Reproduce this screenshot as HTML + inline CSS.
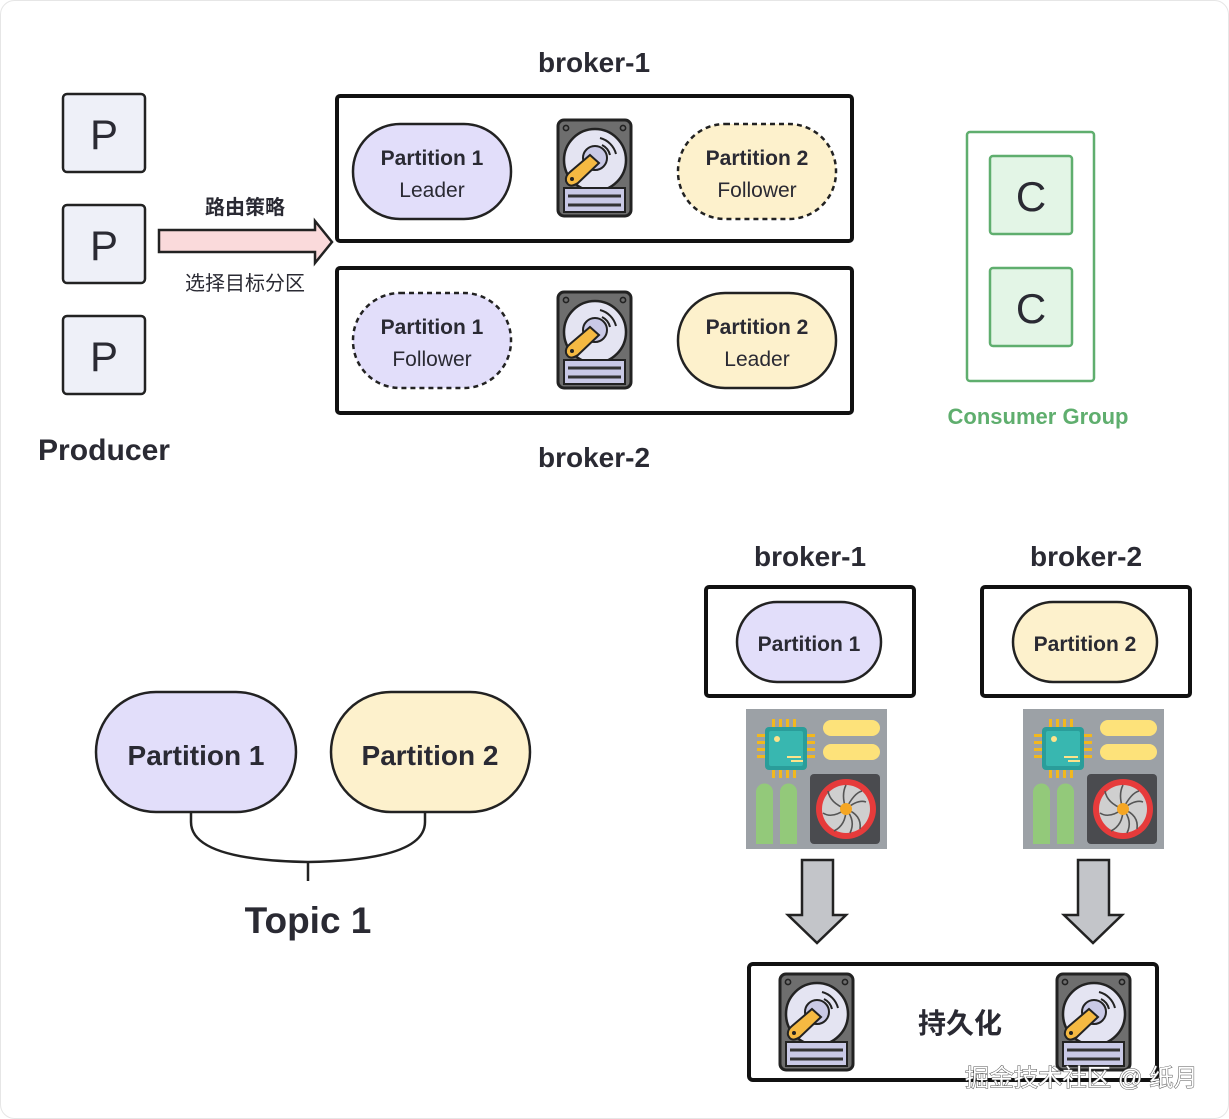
<!DOCTYPE html>
<html><head><meta charset="utf-8"><style>
html,body{margin:0;padding:0;background:#fff;}
svg{display:block;}
text{font-family:"Liberation Sans","Noto Sans CJK SC",sans-serif;fill:#2a2a33;}
</style></head><body>
<svg width="1229" height="1119" viewBox="0 0 1229 1119" xmlns="http://www.w3.org/2000/svg">
<defs>
<g id="hdd">
<rect x="2" y="2" width="73" height="96" rx="6" fill="#6e6e6e" stroke="#222" stroke-width="3"/>
<circle cx="10" cy="10" r="2.6" fill="none" stroke="#222" stroke-width="1.6"/>
<circle cx="67" cy="10" r="2.6" fill="none" stroke="#222" stroke-width="1.6"/>
<circle cx="39" cy="42" r="31" fill="#e4e4f2" stroke="#222" stroke-width="2.5"/>
<path d="M44 20 A22 22 0 0 1 60 36" fill="none" stroke="#222" stroke-width="2"/>
<path d="M46 27 A15 15 0 0 1 54 37" fill="none" stroke="#222" stroke-width="2"/>
<circle cx="39" cy="40" r="12" fill="#c9c9e6" stroke="#222" stroke-width="2"/>
<path d="M34 37 L43 45 L22 65 Q13 71 10 63 Q9 58 14 54 Z" fill="#f5b942" stroke="#222" stroke-width="2"/>
<circle cx="16" cy="61" r="2" fill="#222"/>
<rect x="8" y="70" width="61" height="24" fill="#c9c9e6" stroke="#222" stroke-width="2"/>
<line x1="12" y1="78" x2="65" y2="78" stroke="#333" stroke-width="3"/>
<line x1="12" y1="87" x2="65" y2="87" stroke="#333" stroke-width="3"/>
</g>
<g id="srv">
<rect x="0" y="0" width="141" height="140" fill="#9ca1a6"/>
<g fill="#f2b81e">
<rect x="26" y="10" width="3" height="9"/><rect x="33" y="10" width="3" height="9"/><rect x="40" y="10" width="3" height="9"/><rect x="47" y="10" width="3" height="9"/>
<rect x="26" y="60" width="3" height="9"/><rect x="33" y="60" width="3" height="9"/><rect x="40" y="60" width="3" height="9"/><rect x="47" y="60" width="3" height="9"/>
<rect x="11" y="25" width="9" height="3"/><rect x="11" y="32" width="9" height="3"/><rect x="11" y="39" width="9" height="3"/><rect x="11" y="46" width="9" height="3"/>
<rect x="60" y="25" width="9" height="3"/><rect x="60" y="32" width="9" height="3"/><rect x="60" y="39" width="9" height="3"/><rect x="60" y="46" width="9" height="3"/>
</g>
<rect x="19" y="18" width="42" height="43" rx="4" fill="#2a9d9a"/>
<rect x="23" y="22" width="34" height="35" rx="2" fill="#38b7b0"/>
<circle cx="31" cy="30" r="3" fill="#fde38a"/>
<rect x="41" y="47" width="14" height="2" fill="#fde38a"/><rect x="45" y="51" width="12" height="2" fill="#fde38a"/>
<rect x="77" y="11" width="57" height="16" rx="8" fill="#fde27a"/>
<rect x="77" y="35" width="57" height="16" rx="8" fill="#fde27a"/>
<path d="M10 135 V83 a8.5 8.5 0 0 1 17 0 V135 Z" fill="#93c97a"/>
<path d="M34 135 V83 a8.5 8.5 0 0 1 17 0 V135 Z" fill="#93c97a"/>
<rect x="64" y="65" width="70" height="70" rx="4" fill="#4a4b4f"/>
<circle cx="100" cy="100" r="30" fill="#e63b3b"/>
<circle cx="100" cy="100" r="24" fill="#cfcfcf"/>
<g stroke="#555" stroke-width="1.6" fill="none">
<path d="M100 100 Q95 86 100 76"/><path d="M100 100 Q112 90 120 93"/><path d="M100 100 Q116 106 114 120"/>
<path d="M100 100 Q100 116 88 122"/><path d="M100 100 Q86 110 77 104"/><path d="M100 100 Q84 94 82 82"/>
<path d="M100 100 Q108 84 116 82"/><path d="M100 100 Q110 112 104 124"/>
</g>
<circle cx="100" cy="100" r="6" fill="#f5a623"/>
</g>
<g id="darr">
<path d="M-15 0 H16 V55 H29 L0 83 L-29 55 H-15 Z" fill="#c3c5c9" stroke="#222" stroke-width="2.5"/>
</g>
</defs>

<rect x="0.5" y="0.5" width="1228" height="1118" rx="14" fill="#fff" stroke="#e6e6e6"/>

<g fill="#eef0f8" stroke="#222" stroke-width="2.5">
<rect x="63" y="94" width="82" height="78" rx="4"/>
<rect x="63" y="205" width="82" height="78" rx="4"/>
<rect x="63" y="316" width="82" height="78" rx="4"/>
</g>
<g font-size="42" text-anchor="middle"><text x="104" y="149">P</text><text x="104" y="260">P</text><text x="104" y="371">P</text></g>
<text x="38" y="460" font-size="30" font-weight="bold" textLength="132" lengthAdjust="spacingAndGlyphs">Producer</text>

<path d="M159 230 H315 V221 L332 242 L315 263 V252 H159 Z" fill="#fadadb" stroke="#222" stroke-width="2.5"/>
<text x="245" y="214" font-size="20" font-weight="bold" text-anchor="middle">路由策略</text>
<text x="245" y="290" font-size="20" text-anchor="middle">选择目标分区</text>

<text x="594" y="72" font-size="28" font-weight="bold" text-anchor="middle">broker-1</text>
<rect x="337" y="96" width="515" height="145" rx="3" fill="none" stroke="#111" stroke-width="4"/>
<rect x="337" y="268" width="515" height="145" rx="3" fill="none" stroke="#111" stroke-width="4"/>
<text x="594" y="467" font-size="28" font-weight="bold" text-anchor="middle">broker-2</text>

<rect x="353" y="124" width="158" height="95" rx="47" fill="#e2defa" stroke="#222" stroke-width="2.5"/>
<rect x="678" y="124" width="158" height="95" rx="47" fill="#fdf1cc" stroke="#222" stroke-width="2.5" stroke-dasharray="5 4"/>
<rect x="353" y="293" width="158" height="95" rx="47" fill="#e2defa" stroke="#222" stroke-width="2.5" stroke-dasharray="5 4"/>
<rect x="678" y="293" width="158" height="95" rx="47" fill="#fdf1cc" stroke="#222" stroke-width="2.5"/>
<g font-size="21" text-anchor="middle">
<text x="432" y="165" font-weight="bold">Partition 1</text><text x="432" y="197">Leader</text>
<text x="757" y="165" font-weight="bold">Partition 2</text><text x="757" y="197">Follower</text>
<text x="432" y="334" font-weight="bold">Partition 1</text><text x="432" y="366">Follower</text>
<text x="757" y="334" font-weight="bold">Partition 2</text><text x="757" y="366">Leader</text>
</g>
<use href="#hdd" x="556" y="118"/>
<use href="#hdd" x="556" y="290"/>

<rect x="967" y="132" width="127" height="249" rx="3" fill="none" stroke="#5fae6e" stroke-width="2.5"/>
<rect x="990" y="156" width="82" height="78" rx="3" fill="#e3f5e6" stroke="#5fae6e" stroke-width="2.5"/>
<rect x="990" y="268" width="82" height="78" rx="3" fill="#e3f5e6" stroke="#5fae6e" stroke-width="2.5"/>
<g font-size="42" text-anchor="middle"><text x="1031" y="211">C</text><text x="1031" y="323">C</text></g>
<text x="1038" y="424" font-size="22" font-weight="bold" text-anchor="middle" style="fill:#5fae6e">Consumer Group</text>

<rect x="96" y="692" width="200" height="120" rx="60" fill="#e2defa" stroke="#222" stroke-width="2.5"/>
<rect x="331" y="692" width="199" height="120" rx="60" fill="#fdf1cc" stroke="#222" stroke-width="2.5"/>
<text x="196" y="765" font-size="28" font-weight="bold" text-anchor="middle">Partition 1</text>
<text x="430" y="765" font-size="28" font-weight="bold" text-anchor="middle">Partition 2</text>
<path d="M191 812 V822 Q191 860 308 862 Q425 860 425 822 V812" fill="none" stroke="#222" stroke-width="2.5"/>
<line x1="308" y1="862" x2="308" y2="881" stroke="#222" stroke-width="2.5"/>
<text x="308" y="933" font-size="37" font-weight="bold" text-anchor="middle">Topic 1</text>

<text x="810" y="566" font-size="28" font-weight="bold" text-anchor="middle">broker-1</text>
<text x="1086" y="566" font-size="28" font-weight="bold" text-anchor="middle">broker-2</text>
<rect x="706" y="587" width="208" height="109" rx="3" fill="none" stroke="#111" stroke-width="4"/>
<rect x="982" y="587" width="208" height="109" rx="3" fill="none" stroke="#111" stroke-width="4"/>
<rect x="737" y="602" width="144" height="80" rx="40" fill="#e2defa" stroke="#222" stroke-width="2.5"/>
<rect x="1013" y="602" width="144" height="80" rx="40" fill="#fdf1cc" stroke="#222" stroke-width="2.5"/>
<text x="809" y="651" font-size="21" font-weight="bold" text-anchor="middle">Partition 1</text>
<text x="1085" y="651" font-size="21" font-weight="bold" text-anchor="middle">Partition 2</text>
<use href="#srv" x="746" y="709"/>
<use href="#srv" x="1023" y="709"/>
<use href="#darr" x="817" y="860"/>
<use href="#darr" x="1093" y="860"/>

<rect x="749" y="964" width="408" height="116" rx="4" fill="none" stroke="#111" stroke-width="4"/>
<use href="#hdd" x="778" y="972"/>
<use href="#hdd" x="1055" y="972"/>
<text x="960" y="1033" font-size="28" font-weight="bold" text-anchor="middle">持久化</text>

<text x="965" y="1086" font-size="24" textLength="233" lengthAdjust="spacingAndGlyphs" style="fill:#fff;stroke:#555;stroke-width:1px;paint-order:stroke">掘金技术社区 @ 纸月</text>
</svg>
</body></html>
